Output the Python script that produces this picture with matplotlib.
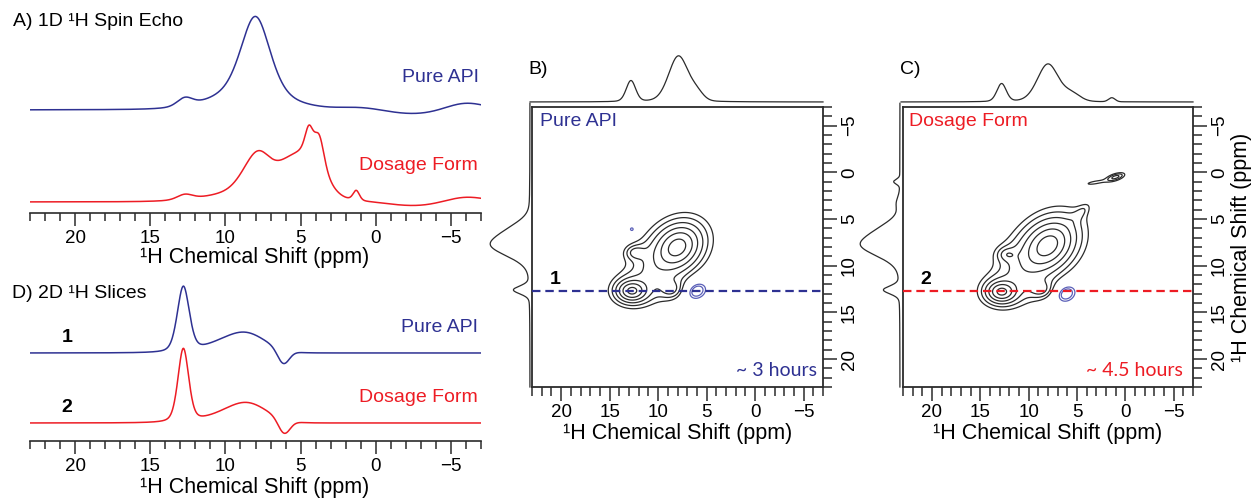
import numpy as np
import matplotlib
matplotlib.use("Agg")
import matplotlib.pyplot as plt
from matplotlib.ticker import MultipleLocator

plt.rcParams['font.family'] = ['Liberation Sans', 'DejaVu Sans']

BLUE = '#2e3192'
RED = '#ed1c24'
INK = '#2b2b2b'
NEG_BLUE = '#5a5fb8'

# ---------------- 1D spectra: peak tables (shift ppm, fwhm ppm, height, lorentz fraction)
ECHO_API_SHIFT = [8.0, 8.6, 12.7, 1.0, -2.5, -6.0]
ECHO_API_WIDTH = [2.3, 5.5, 1.2, 3.0, 4.0, 3.0]
ECHO_API_HEIGHT = [80, 14, 8, 2, -4, 7]
ECHO_API_ETA = [0.4, 0.0, 0.2, 0.0, 0.0, 0.0]

ECHO_DOSE_SHIFT = [7.8, 4.45, 3.75, 4.3, 5.8, 1.3, 12.7, 8.5, -2.5, -6.0]
ECHO_DOSE_WIDTH = [2.3, 0.6, 0.75, 2.2, 1.8, 0.5, 1.2, 6.0, 4.0, 3.0]
ECHO_DOSE_HEIGHT = [42, 22, 26, 44, 21, 10, 5, 8, -4, 5]
ECHO_DOSE_ETA = [0.3, 0.3, 0.3, 0.2, 0.0, 0.3, 0.2, 0.0, 0.0, 0.0]

SLICE_API_SHIFT = [12.8, 8.7, 6.15, 10.8]
SLICE_API_WIDTH = [0.95, 3.2, 0.9, 2.5]
SLICE_API_HEIGHT = [66, 20, -14, 4]
SLICE_API_ETA = [0.35, 0.0, 0.0, 0.0]

SLICE_DOSE_SHIFT = [12.8, 8.6, 6.1, 10.8]
SLICE_DOSE_WIDTH = [0.85, 3.2, 0.9, 2.5]
SLICE_DOSE_HEIGHT = [74, 20, -14, 3]
SLICE_DOSE_ETA = [0.35, 0.0, 0.0, 0.0]

# projections of the 2D maps
PROJ_B_TOP_SHIFT = [7.9, 12.8, 6.0]
PROJ_B_TOP_WIDTH = [2.4, 1.15, 1.6]
PROJ_B_TOP_HEIGHT = [46, 21, 7]
PROJ_B_TOP_ETA = [0.2, 0.2, 0.0]

PROJ_B_LEFT_SHIFT = [7.8, 12.6, 6.0]
PROJ_B_LEFT_WIDTH = [2.8, 1.0, 2.2]
PROJ_B_LEFT_HEIGHT = [38, 16, 10]
PROJ_B_LEFT_ETA = [0.2, 0.2, 0.0]

PROJ_C_TOP_SHIFT = [8.0, 12.8, 5.5, 1.4]
PROJ_C_TOP_WIDTH = [2.6, 1.15, 2.0, 0.8]
PROJ_C_TOP_HEIGHT = [38, 18, 7, 4]
PROJ_C_TOP_ETA = [0.2, 0.2, 0.0, 0.0]

PROJ_C_LEFT_SHIFT = [7.8, 12.6, 6.0, 1.0, 3.3]
PROJ_C_LEFT_WIDTH = [2.8, 1.0, 2.2, 0.6, 1.5]
PROJ_C_LEFT_HEIGHT = [38, 16, 10, 6, 3]
PROJ_C_LEFT_ETA = [0.2, 0.2, 0.0, 0.0, 0.0]

# ---------------- 2D maps: peak tables (x ppm, y ppm, major/minor width, angle, amplitude)
API_2D_X = [8.0, 10.6, 12.7, 12.3, 8.7, 6.0, 12.7]
API_2D_Y = [8.0, 10.6, 12.7, 8.6, 12.5, 12.7, 6.1]
API_2D_MAJ = [2.8, 4.2, 1.6, 1.2, 1.4, 1.4, 0.5]
API_2D_MIN = [2.25, 2.8, 1.2, 0.9, 1.2, 1.1, 0.5]
API_2D_ANG = [45, 45, 0, 0, 0, 35, 0]
API_2D_AMP = [0.9, 0.13, 0.8, 0.22, 0.22, -0.28, -0.16]

DOSE_2D_X = [8.0, 10.4, 12.8, 12.2, 8.8, 4.6, 6.1, 1.0, 3.2]
DOSE_2D_Y = [7.8, 10.2, 12.8, 8.8, 12.5, 4.3, 13.0, 0.5, 1.1]
DOSE_2D_MAJ = [3.2, 4.8, 1.6, 1.2, 1.4, 1.6, 1.4, 1.2, 1.6]
DOSE_2D_MIN = [2.4, 2.9, 1.2, 0.9, 1.1, 0.7, 1.1, 0.45, 0.3]
DOSE_2D_ANG = [45, 45, 0, 0, 0, 45, 35, 18, 10]
DOSE_2D_AMP = [0.9, 0.14, 0.8, 0.2, 0.22, 0.1, -0.28, 0.25, 0.1]

POS_LEVELS = [0.1, 0.15, 0.225, 0.34, 0.51, 0.76]
NEG_LEVELS = [-0.15, -0.1]
SLICE_PPM = 12.7


def spectrum(x, shift, width, height, eta):
    y = np.zeros_like(x)
    for c, w, h, e in zip(shift, width, height, eta):
        r2 = ((x - c) / w) ** 2
        y += h * (e / (1 + 4 * r2) + (1 - e) * np.exp(-4 * np.log(2) * r2))
    return y


def surface(X, Y, xs, ys, smaj, smin, ang, amp):
    Z = np.zeros_like(X)
    for x0, y0, a, b, t, h in zip(xs, ys, smaj, smin, ang, amp):
        t = np.deg2rad(t)
        dx, dy = X - x0, Y - y0
        u = dx * np.cos(t) + dy * np.sin(t)
        v = -dx * np.sin(t) + dy * np.cos(t)
        Z += h / (1 + (u / a) ** 2 + (v / b) ** 2) ** 2
    return Z


W, H = 1257, 503
fig = plt.figure(figsize=(W / 100, H / 100), dpi=100)


def px_axes(left, top, right, bottom):
    return fig.add_axes([left / W, 1 - bottom / H, (right - left) / W, (bottom - top) / H])


def ftext(x, y, s, **kw):
    fig.text(x / W, 1 - y / H, s, **kw)


XLABEL = '\u00b9H Chemical Shift (ppm)'
ppm = np.linspace(23, -7, 1500)


def style_1d(ax):
    for s in ('left', 'right', 'top'):
        ax.spines[s].set_visible(False)
    ax.spines['bottom'].set_linewidth(1.2)
    ax.spines['bottom'].set_color(INK)
    ax.set_yticks([])
    ax.set_xlim(23, -7)
    ax.xaxis.set_major_locator(MultipleLocator(5))
    ax.xaxis.set_minor_locator(MultipleLocator(1))
    ax.tick_params(axis='x', which='major', length=9, width=1.1, color=INK,
                   labelsize=13.5, pad=3)
    ax.tick_params(axis='x', which='minor', length=6, width=1.1, color=INK)
    ax.patch.set_alpha(0)


# ---- A) 1D spin echo
axA = px_axes(30, 5, 481, 213)
axA.plot(ppm, 103 + spectrum(ppm, ECHO_API_SHIFT, ECHO_API_WIDTH, ECHO_API_HEIGHT, ECHO_API_ETA),
         color=BLUE, lw=1.1)
axA.plot(ppm, 11 + spectrum(ppm, ECHO_DOSE_SHIFT, ECHO_DOSE_WIDTH, ECHO_DOSE_HEIGHT, ECHO_DOSE_ETA),
         color=RED, lw=1.1)
axA.set_ylim(0, 208)
style_1d(axA)
ftext(13, 21, 'A) 1D \u00b9H Spin Echo', fontsize=14, ha='left', va='center')
ftext(479, 78, 'Pure API', fontsize=14, color=BLUE, ha='right', va='center')
ftext(478, 166, 'Dosage Form', fontsize=14, color=RED, ha='right', va='center')
ftext(255, 258, XLABEL, fontsize=15.5, ha='center', va='center')

# ---- D) 2D slices
axD = px_axes(30, 262, 481, 441)
axD.plot(ppm, 88 + spectrum(ppm, SLICE_API_SHIFT, SLICE_API_WIDTH, SLICE_API_HEIGHT, SLICE_API_ETA),
         color=BLUE, lw=1.1)
axD.plot(ppm, 18 + spectrum(ppm, SLICE_DOSE_SHIFT, SLICE_DOSE_WIDTH, SLICE_DOSE_HEIGHT, SLICE_DOSE_ETA),
         color=RED, lw=1.1)
axD.set_ylim(0, 179)
style_1d(axD)
ftext(12, 293, 'D) 2D \u00b9H Slices', fontsize=14, ha='left', va='center')
ftext(67, 338, '1', fontsize=14, fontweight='bold', ha='center', va='center')
ftext(67, 407, '2', fontsize=14, fontweight='bold', ha='center', va='center')
ftext(478, 327, 'Pure API', fontsize=14, color=BLUE, ha='right', va='center')
ftext(478, 397, 'Dosage Form', fontsize=14, color=RED, ha='right', va='center')
ftext(255, 487, XLABEL, fontsize=15.5, ha='center', va='center')

# ---- 2D maps
grid = np.linspace(-8, 24, 600)
GX, GY = np.meshgrid(grid, grid)


def map_panel(box, top_ax, left_ax, peaks, top_proj, left_proj, color, slice_no,
              tag, tag_xy, name, name_xy, time_txt, time_xy, ylabel):
    ax = px_axes(*box)
    Z = surface(GX, GY, *peaks)
    ax.contour(GX, GY, Z, levels=POS_LEVELS, colors=INK, linewidths=0.9,
               linestyles='solid')
    ax.contour(GX, GY, Z, levels=NEG_LEVELS, colors=NEG_BLUE, linewidths=0.9,
               linestyles='solid')
    ax.axhline(SLICE_PPM, color=color, lw=1.6, ls=(0, (3.8, 2.2)), zorder=5)
    ax.set_xlim(23, -7)
    ax.set_ylim(23, -7)
    ax.yaxis.tick_right()
    for a in ('x', 'y'):
        loc = ax.xaxis if a == 'x' else ax.yaxis
        loc.set_major_locator(MultipleLocator(5))
        loc.set_minor_locator(MultipleLocator(1))
    ax.tick_params(which='major', length=10, width=1.1, color=INK, labelsize=13.5, pad=2)
    ax.tick_params(which='minor', length=6.5, width=1.1, color=INK)
    ax.tick_params(axis='y', labelrotation=90, pad=3)
    for lab in ax.get_yticklabels():
        lab.set_va('center')
    for s in ax.spines.values():
        s.set_linewidth(1.3)
        s.set_color(INK)

    # top projection
    axt = px_axes(*top_ax)
    xp = np.linspace(23.2, -7, 900)
    axt.plot(xp, spectrum(xp, *top_proj), color=INK, lw=0.9, clip_on=False)
    axt.set_xlim(23, -7)
    axt.set_ylim(0, top_ax[3] - top_ax[1])
    axt.axis('off')

    # left projection
    axl = px_axes(*left_ax)
    yp = np.linspace(-7.4, 23, 900)
    axl.plot(spectrum(yp, *left_proj), yp, color=INK, lw=0.9, clip_on=False)
    axl.set_ylim(23, -7)
    axl.set_xlim(left_ax[2] - left_ax[0], 0)
    axl.axis('off')

    bx0, by0, bx1, by1 = box
    ftext(*tag_xy, tag, fontsize=14, ha='left', va='center')
    ftext(*name_xy, name, fontsize=14, color=color, ha='left', va='center')
    ftext(*time_xy, time_txt, fontsize=14, color=color, ha='right', va='center',
          family=['Lato', 'DejaVu Sans'])
    ftext(bx0 + 23, 280, slice_no, fontsize=14, fontweight='bold', ha='center', va='center')
    ftext((bx0 + bx1) / 2, 433, XLABEL, fontsize=15.5, ha='center', va='center')
    if ylabel:
        ftext(bx1 + 49, (by0 + by1) / 2, XLABEL, fontsize=15.5, ha='center', va='center',
              rotation=90)


map_panel((532, 107, 823, 387), (532, 40, 823, 102), (470, 107, 530, 387),
          (API_2D_X, API_2D_Y, API_2D_MAJ, API_2D_MIN, API_2D_ANG, API_2D_AMP),
          (PROJ_B_TOP_SHIFT, PROJ_B_TOP_WIDTH, PROJ_B_TOP_HEIGHT, PROJ_B_TOP_ETA),
          (PROJ_B_LEFT_SHIFT, PROJ_B_LEFT_WIDTH, PROJ_B_LEFT_HEIGHT, PROJ_B_LEFT_ETA),
          BLUE, '1', 'B)', (528, 70), 'Pure API', (540, 122), '~ 3 hours', (817, 370), False)

map_panel((903, 107, 1193, 387), (903, 40, 1193, 102), (840, 107, 900, 387),
          (DOSE_2D_X, DOSE_2D_Y, DOSE_2D_MAJ, DOSE_2D_MIN, DOSE_2D_ANG, DOSE_2D_AMP),
          (PROJ_C_TOP_SHIFT, PROJ_C_TOP_WIDTH, PROJ_C_TOP_HEIGHT, PROJ_C_TOP_ETA),
          (PROJ_C_LEFT_SHIFT, PROJ_C_LEFT_WIDTH, PROJ_C_LEFT_HEIGHT, PROJ_C_LEFT_ETA),
          RED, '2', 'C)', (900, 70), 'Dosage Form', (909, 122), '~ 4.5 hours', (1183, 370), True)

fig.savefig('out.png', dpi=100)
